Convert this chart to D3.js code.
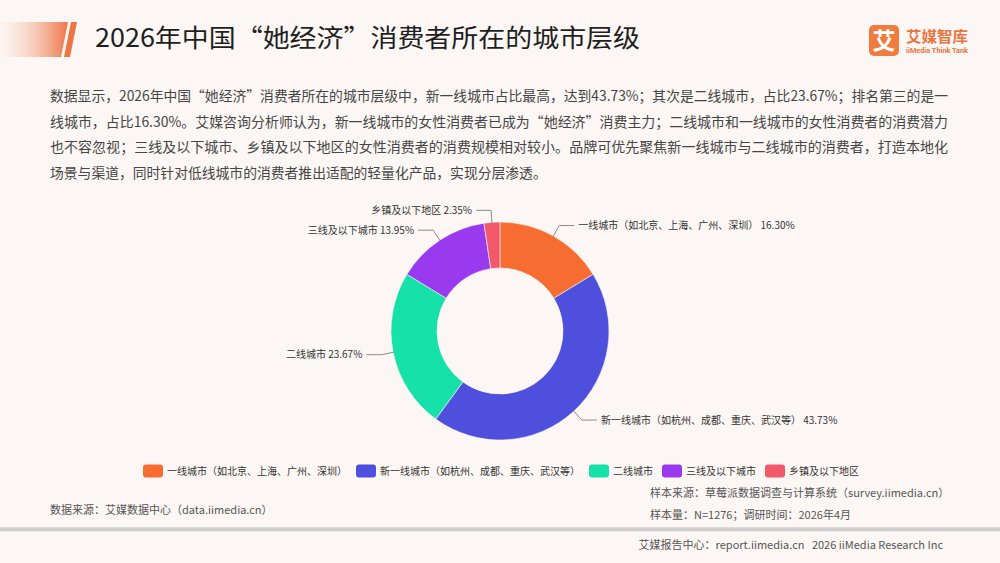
<!DOCTYPE html>
<html>
<head>
<meta charset="utf-8">
<script src="https://cdn.jsdelivr.net/npm/d3@7"></script>
<style>
  body { margin: 0; background: #fcf7f4; }
  svg { display: block; font-family: "Noto Sans CJK SC", "Noto Sans", sans-serif; }
</style>
</head>
<body>
<div id="chart"></div>
<script>
// chart data
var categories = [
  "一线城市（如北京、上海、广州、深圳）",
  "新一线城市（如杭州、成都、重庆、武汉等）",
  "二线城市",
  "三线及以下城市",
  "乡镇及以下地区"
];
var shares = [16.30, 43.73, 23.67, 13.95, 2.35];
var sliceColors = ["#f76d31", "#4f4fde", "#15e1a9", "#9a3aef", "#f1596a"];

var titleText = "2026年中国“她经济”消费者所在的城市层级";
var introLines = [
  "数据显示，2026年中国“她经济”消费者所在的城市层级中，新一线城市占比最高，达到43.73%；其次是二线城市，占比23.67%；排名第三的是一",
  "线城市，占比16.30%。艾媒咨询分析师认为，新一线城市的女性消费者已成为“她经济”消费主力；二线城市和一线城市的女性消费者的消费潜力",
  "也不容忽视；三线及以下城市、乡镇及以下地区的女性消费者的消费规模相对较小。品牌可优先聚焦新一线城市与二线城市的消费者，打造本地化",
  "场景与渠道，同时针对低线城市的消费者推出适配的轻量化产品，实现分层渗透。"
];
var sourceText = "数据来源：艾媒数据中心（data.iimedia.cn）";
var sampleLines = [
  "样本来源：草莓派数据调查与计算系统（survey.iimedia.cn）",
  "样本量：N=1276；调研时间：2026年4月"
];
var footerText = "艾媒报告中心：report.iimedia.cn   2026 iiMedia Research Inc";

var width = 1000, height = 563;
var cx = 500, cy = 331, outerR = 109, innerR = 63;

var svg = d3.select("#chart").append("svg")
  .attr("width", width)
  .attr("height", height);

var defs = svg.append("defs");
var hg = defs.append("linearGradient").attr("id", "headGrad");
hg.append("stop").attr("offset", "0%").attr("stop-color", "#fbe9e0").attr("stop-opacity", 0.2);
hg.append("stop").attr("offset", "100%").attr("stop-color", "#ee7444");
var sg = defs.append("linearGradient").attr("id", "sepGrad").attr("x1", 0).attr("y1", 0).attr("x2", 0).attr("y2", 1);
sg.append("stop").attr("offset", "0%").attr("stop-color", "#e2e0df");
sg.append("stop").attr("offset", "50%").attr("stop-color", "#c9c8c8");
sg.append("stop").attr("offset", "100%").attr("stop-color", "#ecebea");

svg.append("rect").attr("width", width).attr("height", height).attr("fill", "#fcf7f4");

// header decoration
svg.append("path")
  .attr("d", "M0,22 L68,22 L61,57 L0,57 Z")
  .attr("fill", "url(#headGrad)");
svg.append("path")
  .attr("d", "M71,22 L77,22 L70,57 L64,57 Z")
  .attr("fill", "#ee7444");

svg.append("text")
  .attr("x", 95).attr("y", 47)
  .attr("font-size", 25)
  .attr("fill", "#1f1f1f")
  .attr("textLength", 545).attr("lengthAdjust", "spacingAndGlyphs")
  .text(titleText);

// logo
svg.append("rect")
  .attr("x", 869).attr("y", 25).attr("width", 30).attr("height", 31).attr("rx", 5)
  .attr("fill", "#f07b3e");
svg.append("text")
  .attr("x", 884).attr("y", 49).attr("text-anchor", "middle")
  .attr("font-size", 23).attr("font-weight", 700).attr("fill", "#fff")
  .text("艾");
svg.append("text")
  .attr("x", 906).attr("y", 42)
  .attr("font-size", 15).attr("font-weight", 700).attr("fill", "#ea7540")
  .attr("textLength", 62).attr("lengthAdjust", "spacingAndGlyphs")
  .text("艾媒智库");
svg.append("text")
  .attr("x", 906).attr("y", 53)
  .attr("font-size", 7).attr("font-weight", 700).attr("fill", "#ea7540")
  .attr("font-family", "Roboto, sans-serif")
  .attr("textLength", 62).attr("lengthAdjust", "spacingAndGlyphs")
  .text("iiMedia Think Tank");

// intro paragraph
svg.append("g").selectAll("text")
  .data(introLines)
  .join("text")
  .attr("x", 50)
  .attr("y", (d, i) => 101 + i * 25.5)
  .attr("font-size", 13.8)
  .attr("fill", "#454545")
  .each(function (d, i) {
    if (i < introLines.length - 1) {
      d3.select(this).attr("textLength", 898).attr("lengthAdjust", "spacingAndGlyphs");
    }
  })
  .text(d => d);

// donut
var pie = d3.pie().sort(null).value(d => d);
var arcs = pie(shares);
var arc = d3.arc().innerRadius(innerR).outerRadius(outerR);

var g = svg.append("g").attr("transform", `translate(${cx},${cy})`);
g.selectAll("path.slice")
  .data(arcs)
  .join("path")
  .attr("class", "slice")
  .attr("d", arc)
  .attr("fill", (d, i) => sliceColors[i])
  .attr("stroke", "#fcf7f4")
  .attr("stroke-width", 0.6);

var len1 = 12, len2 = 15;
function pointAt(a, r) {
  return [Math.sin(a) * r, -Math.cos(a) * r];
}
var labels = g.selectAll("g.lbl")
  .data(arcs)
  .join("g")
  .attr("class", "lbl");

labels.each(function (d, i) {
  var mid = (d.startAngle + d.endAngle) / 2;
  var right = Math.sin(mid) >= 0;
  var p0 = pointAt(mid, outerR - 1);
  var p1 = pointAt(mid, outerR + len1);
  var p2 = [p1[0] + (right ? len2 : -len2), p1[1]];
  d3.select(this).append("polyline")
    .attr("points", [p0, p1, p2].map(p => p.join(",")).join(" "))
    .attr("fill", "none")
    .attr("stroke", "#8a8a8a")
    .attr("stroke-width", 1);
  d3.select(this).append("text")
    .attr("x", p2[0] + (right ? 4 : -4))
    .attr("y", p2[1])
    .attr("dy", "0.35em")
    .attr("text-anchor", right ? "start" : "end")
    .attr("font-size", 10)
    .attr("fill", "#333")
    .text(categories[i] + " " + d3.format(".2f")(shares[i]) + "%");
});

// legend
var legend = svg.append("g").attr("class", "legend");
var items = legend.selectAll("g")
  .data(categories)
  .join("g");
items.append("rect")
  .attr("width", 20).attr("height", 13).attr("rx", 3)
  .attr("y", -6.5)
  .attr("fill", (d, i) => sliceColors[i]);
items.append("text")
  .attr("x", 24).attr("dy", "0.35em")
  .attr("font-size", 10).attr("fill", "#333")
  .text(d => d);
var offsets = [], xpos = 0, itemGap = 9;
items.each(function () {
  offsets.push(xpos);
  xpos += 24 + this.querySelector("text").getComputedTextLength() + itemGap;
});
var legendW = xpos - itemGap;
var lx0 = 501 - legendW / 2;
items.attr("transform", (d, i) => `translate(${lx0 + offsets[i]},471)`);

// footnotes
svg.append("text")
  .attr("x", 50).attr("y", 514)
  .attr("font-size", 11).attr("fill", "#555")
  .text(sourceText);
svg.append("g").selectAll("text")
  .data(sampleLines)
  .join("text")
  .attr("x", 650)
  .attr("y", (d, i) => 497 + i * 22)
  .attr("font-size", 11).attr("fill", "#555")
  .text(d => d);

svg.append("rect")
  .attr("x", 0).attr("y", 527).attr("width", width).attr("height", 5)
  .attr("fill", "url(#sepGrad)");

svg.append("text")
  .attr("x", 943).attr("y", 549)
  .attr("text-anchor", "end")
  .attr("font-size", 11).attr("fill", "#555")
  .attr("xml:space", "preserve")
  .text(footerText);
</script>
</body>
</html>
